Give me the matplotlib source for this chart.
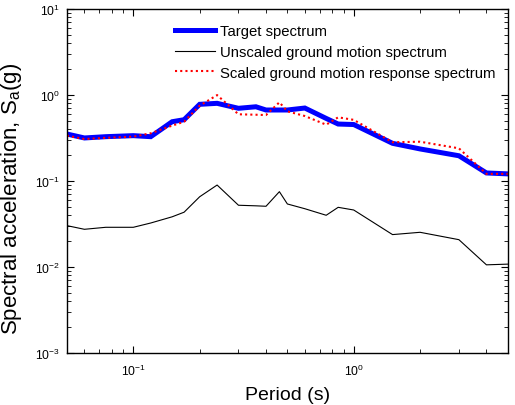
import matplotlib
matplotlib.use("Agg")
import matplotlib.pyplot as plt
from matplotlib.ticker import LogLocator, NullFormatter

plt.rcParams['font.family'] = ['Liberation Sans', 'DejaVu Sans']
plt.rcParams['mathtext.fontset'] = 'custom'
plt.rcParams['mathtext.rm'] = 'Liberation Sans'
plt.rcParams['mathtext.it'] = 'Liberation Sans:italic'
plt.rcParams['mathtext.bf'] = 'Liberation Sans:bold'

periods = [0.05, 0.06, 0.075, 0.1, 0.12, 0.15, 0.17, 0.2, 0.24, 0.3, 0.36, 0.4,
           0.46, 0.5, 0.6, 0.75, 0.85, 1.0, 1.5, 2.0, 3.0, 4.0, 5.0]

target = [0.349, 0.314, 0.325, 0.334, 0.325, 0.485, 0.512, 0.773, 0.794, 0.695, 0.724, 0.664,
          0.664, 0.664, 0.70, 0.53, 0.456, 0.45, 0.272, 0.234, 0.195, 0.123, 0.12]

unscaled = [0.030, 0.0272, 0.0287, 0.0287, 0.0322, 0.038, 0.043, 0.065, 0.089, 0.0518, 0.051, 0.0504,
            0.0745, 0.0536, 0.0472, 0.0396, 0.049, 0.0456, 0.0236, 0.0251, 0.0206, 0.0105, 0.0107]

scaled = [0.334, 0.305, 0.315, 0.325, 0.356, 0.437, 0.485, 0.745, 0.99, 0.592, 0.585, 0.58,
          0.816, 0.641, 0.565, 0.448, 0.546, 0.51, 0.28, 0.284, 0.238, 0.12, 0.12]

labels = ['Target spectrum', 'Unscaled ground motion spectrum',
          'Scaled ground motion response spectrum']

fig = plt.figure(figsize=(5.15, 4.06), dpi=100)
ax = fig.add_axes([0.130, 0.129, 0.856, 0.847])

ax.loglog(periods, target, color='#0000ff', lw=3.6, label=labels[0], solid_joinstyle='miter')
ax.loglog(periods, unscaled, color='black', lw=0.8, label=labels[1])
ax.loglog(periods, scaled, color='red', lw=1.5, linestyle=(0, (1, 1.5)), label=labels[2])

ax.set_xlim(0.05, 5)
ax.set_ylim(1e-3, 1e1)

ax.xaxis.set_major_locator(LogLocator(base=10, numticks=10))
ax.xaxis.set_minor_locator(LogLocator(base=10, subs=range(2, 10), numticks=20))
ax.xaxis.set_minor_formatter(NullFormatter())
ax.yaxis.set_major_locator(LogLocator(base=10, numticks=10))
ax.yaxis.set_minor_locator(LogLocator(base=10, subs=range(2, 10), numticks=20))
ax.yaxis.set_minor_formatter(NullFormatter())

ax.tick_params(which='both', direction='in', top=True, right=True, labelsize=8.7)
ax.tick_params(axis='x', which='major', pad=7)
ax.tick_params(axis='y', which='major', pad=5)
ax.tick_params(which='major', length=5, width=0.8)
ax.tick_params(which='minor', length=3, width=0.6)
for s in ax.spines.values():
    s.set_linewidth(1.0)

ax.set_xlabel('Period (s)', fontsize=14, labelpad=6)
ax.set_ylabel(r'Spectral acceleration, S$_{\mathrm{a}}$(g)', fontsize=16, labelpad=4)
ax.yaxis.set_label_coords(-0.098, 0.45)

leg = ax.legend(loc='upper left', bbox_to_anchor=(0.232, 0.972), frameon=False,
                fontsize=10.7, handlelength=2.7, handletextpad=0.35, labelspacing=0.45,
                borderaxespad=0.0)

fig.savefig('out.png', dpi=100)
